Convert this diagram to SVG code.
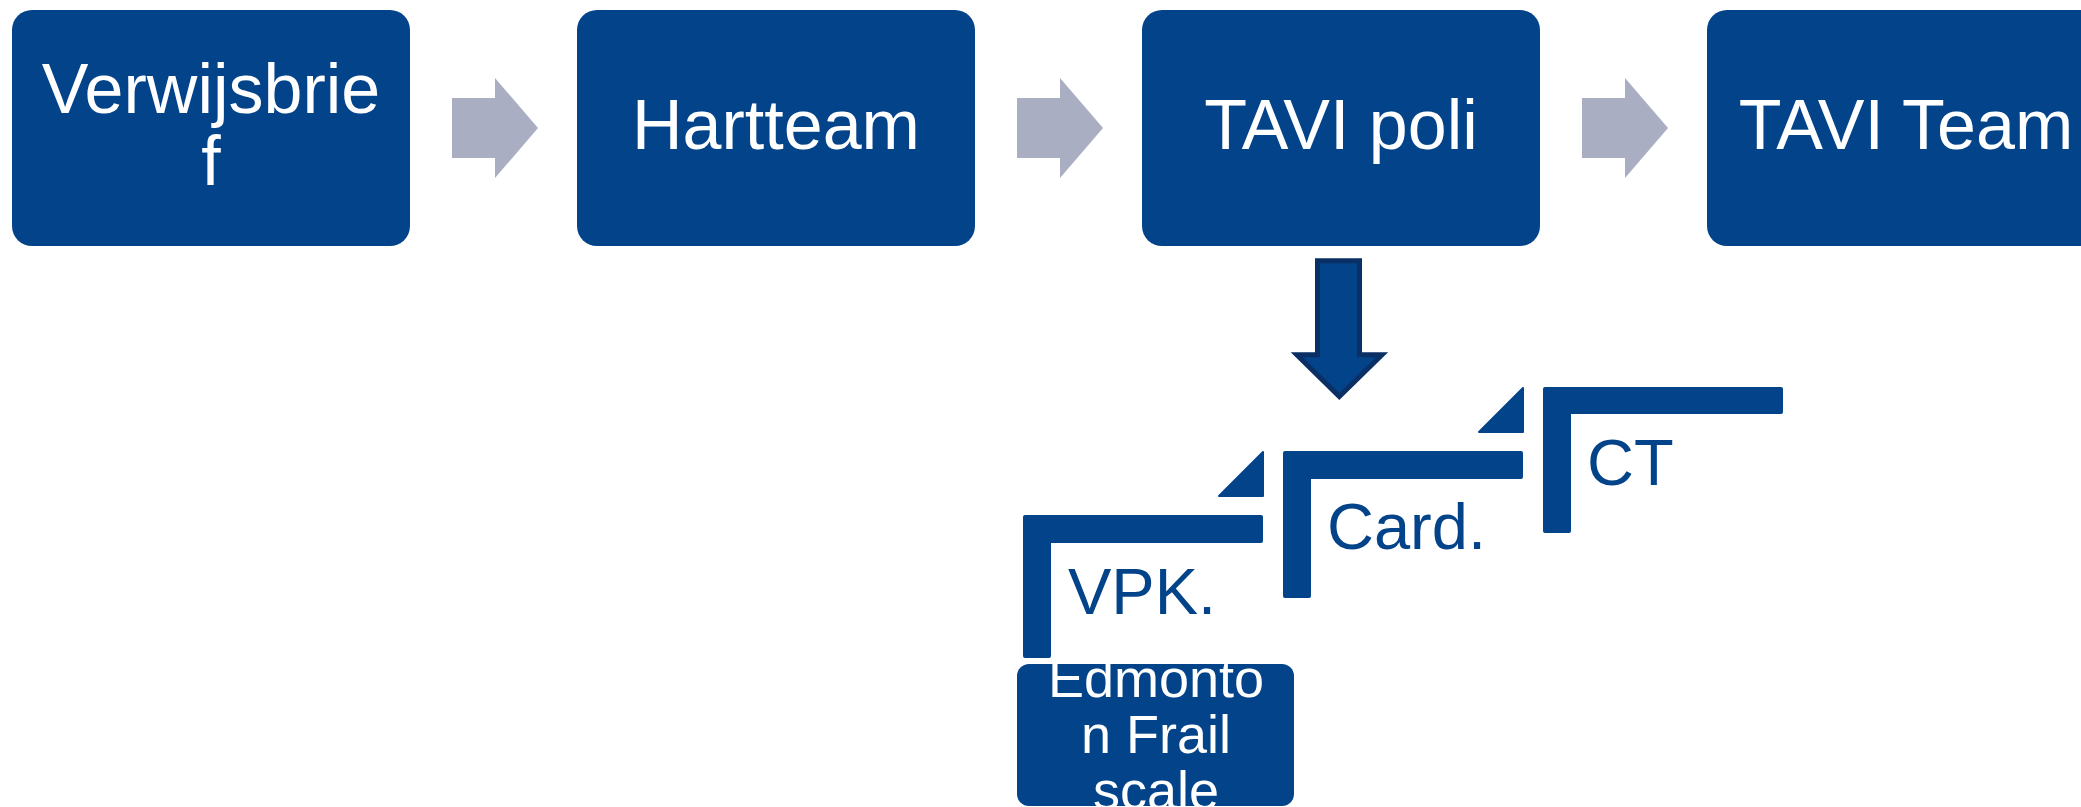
<svg xmlns="http://www.w3.org/2000/svg" width="2081" height="807" viewBox="0 0 2081 807">
<style>
.box{fill:#03438A}
.wt{font-family:"Liberation Sans",Arial,sans-serif;font-size:70px;fill:#FFFFFF;text-anchor:middle}
.et{font-family:"Liberation Sans",Arial,sans-serif;font-size:54px;fill:#FFFFFF;text-anchor:middle}
.st{font-family:"Liberation Sans",Arial,sans-serif;font-size:65px;fill:#03438A}
.garrow{fill:#A9AEC3}
.frame{fill:#03438A}
</style>
<defs>
<clipPath id="edclip"><rect x="1017" y="664" width="277" height="143"/></clipPath>
</defs>
<g id="connectors">
<polygon class="garrow" points="452,98 495,98 495,78 538,128 495,178 495,158 452,158"/>
<polygon class="garrow" points="1017,98 1060,98 1060,78 1103,128 1060,178 1060,158 1017,158"/>
<polygon class="garrow" points="1582,98 1625,98 1625,78 1668,128 1625,178 1625,158 1582,158"/>
<path d="M1317.5,260.8 H1359.5 V354.8 H1382 L1339.3,396.5 L1296.8,354.8 H1317.5 Z" fill="#03438A" stroke="#0A2F64" stroke-width="5" stroke-linejoin="miter"/>
</g>
<g id="node-verwijsbrief">
<rect class="box" x="12" y="10" width="398" height="236" rx="20"/>
<text class="wt" x="211" y="113">Verwijsbrie</text>
<text class="wt" x="211" y="185">f</text>
</g>
<g id="node-hartteam">
<rect class="box" x="577" y="10" width="398" height="236" rx="20"/>
<text class="wt" x="776" y="149">Hartteam</text>
</g>
<g id="node-tavi-poli">
<rect class="box" x="1142" y="10" width="398" height="236" rx="20"/>
<text class="wt" x="1341" y="149">TAVI poli</text>
</g>
<g id="node-tavi-team">
<rect class="box" x="1707" y="10" width="398" height="236" rx="20"/>
<text class="wt" x="1906" y="149">TAVI Team</text>
</g>
<g id="node-vpk">
<path class="frame" d="M1025,515 H1261 Q1263,515 1263,517 V541 Q1263,543 1261,543 H1051 V656 Q1051,658 1049,658 H1025 Q1023,658 1023,656 V517 Q1023,515 1025,515 Z"/>
<polygon class="frame" points="1219,496 1263,452 1263,496" stroke="#03438A" stroke-width="2" stroke-linejoin="round"/>
<text class="st" x="1068" y="614">VPK.</text>
</g>
<g id="node-card">
<path class="frame" d="M1285,451 H1521 Q1523,451 1523,453 V477 Q1523,479 1521,479 H1311 V596 Q1311,598 1309,598 H1285 Q1283,598 1283,596 V453 Q1283,451 1285,451 Z"/>
<polygon class="frame" points="1479,432 1523,388 1523,432" stroke="#03438A" stroke-width="2" stroke-linejoin="round"/>
<text class="st" x="1327" y="549">Card.</text>
</g>
<g id="node-ct">
<path class="frame" d="M1545,387 H1781 Q1783,387 1783,389 V412 Q1783,414 1781,414 H1571 V531 Q1571,533 1569,533 H1545 Q1543,533 1543,531 V389 Q1543,387 1545,387 Z"/>
<text class="st" x="1587" y="485">CT</text>
</g>
<g id="node-edmonton">
<rect class="box" x="1017" y="664" width="277" height="142" rx="12"/>
<g clip-path="url(#edclip)">
<text class="et" x="1156" y="697">Edmonto</text>
<text class="et" x="1156" y="753">n Frail</text>
<text class="et" x="1156" y="809">scale</text>
</g>
</g>
</svg>
